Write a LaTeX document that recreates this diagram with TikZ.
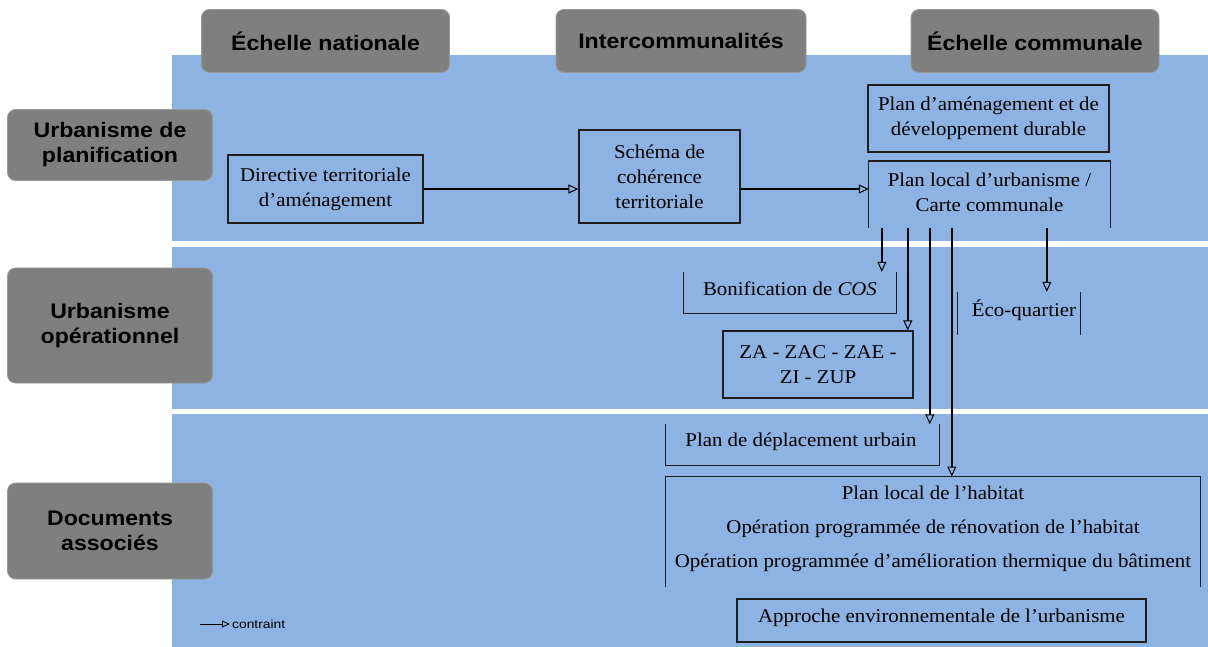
\documentclass[tikz,border=0pt]{standalone}
\usepackage{fontspec}
\setmainfont{Liberation Serif}[FakeStretch=1.07]
\newfontfamily\hdfont{Liberation Sans}[FakeStretch=1.1]
\newfontfamily\lgfont{Liberation Sans}[FakeStretch=1.15]
\usetikzlibrary{arrows.meta,calc}
\definecolor{band}{HTML}{8DB3E2}
\definecolor{hdgray}{HTML}{7F7F7F}
\definecolor{boxline}{HTML}{1F1F1F}
\tikzset{
  band/.style={fill=band,draw=none},
  hdbox/.style={fill=hdgray,draw=hdgray!80!white,line width=0.8pt,rounded corners=8pt,
    font=\hdfont\bfseries\fontsize{21}{25}\selectfont,text=black,align=center,inner sep=0pt},
  doc/.style={font=\fontsize{19.5}{25}\selectfont,align=center,inner sep=0pt,text=black},
  framed/.style={doc,draw=boxline,line width=1.2pt},
  side/.style={draw=boxline,line width=1.2pt},
  arr/.style={draw=black,line width=1.6pt,-{Triangle[open,length=10pt,width=9pt,line width=1pt]}},
}
\begin{document}
\begin{tikzpicture}[x=1pt,y=-1pt]
\useasboundingbox (0,0) rectangle (1208,647);
\fill[white] (0,0) rectangle (1208,647);
% bands
\path[band] (172,55) rectangle (1208,241);
\path[band] (172,247) rectangle (1208,409);
\path[band] (172,414) rectangle (1208,647);
% column headers
\node[hdbox,minimum width=248pt,minimum height=63pt] (h1) at (325.5,41) {Échelle nationale};
\node[hdbox,minimum width=250pt,minimum height=63pt] (h2) at (681,41) {Intercommunalités};
\node[hdbox,minimum width=248pt,minimum height=63pt] (h3) at (1035,41) {Échelle communale};
% row headers
\node[hdbox,minimum width=205pt,minimum height=71pt] (r1) at (110,145) {Urbanisme de\\planification};
\node[hdbox,minimum width=205pt,minimum height=115pt] (r2) at (110,325.5) {Urbanisme\\opérationnel};
\node[hdbox,minimum width=205pt,minimum height=96pt] (r3) at (110,531) {Documents\\associés};
% boxes
\node[framed,minimum width=195pt,minimum height=68pt] (dta) at (325.5,189) {Directive territoriale\\d’aménagement};
\node[framed,minimum width=161pt,minimum height=93pt] (scot) at (659.5,176.5) {Schéma de\\cohérence\\territoriale};
\node[framed,minimum width=241pt,minimum height=67pt] (padd) at (988.5,118.5) {Plan d’aménagement et de\\développement durable};
\node[doc,minimum width=241pt,minimum height=67pt,anchor=north] (plu) at (989.5,161) {};
\node[doc] (plut) at (989.5,192) {Plan local d’urbanisme /\\Carte communale};
\draw[side] (plu.south west) -- (plu.north west) -- (plu.north east) -- (plu.south east);
\node[doc,minimum width=212pt,minimum height=41pt] (cos) at (790,292.5) {};
\node[doc] (cost) at (790,289) {Bonification de \textit{COS}};
\draw[side] (cos.north west) -- (cos.south west) -- (cos.south east) -- (cos.north east);
\node[framed,minimum width=190pt,minimum height=67pt] (za) at (818,364.5) {ZA - ZAC - ZAE -\\ZI - ZUP};
\node[doc,minimum width=122pt,minimum height=43pt] (eco) at (1019,313.5) {};
\node[doc] (ecot) at (1024,310) {Éco-quartier};
\draw[side] (eco.north west) -- (eco.south west);
\draw[side] (eco.north east) -- (eco.south east);
\node[doc,minimum width=273pt,minimum height=41pt] (pdu) at (802.5,445) {};
\node[doc] (pdut) at (801,441.5) {Plan de déplacement urbain};
\draw[side] (pdu.north west) -- (pdu.south west) -- (pdu.south east) -- (pdu.north east);
\node[doc,minimum width=534pt,minimum height=110pt,anchor=north] (plh) at (933,476.5) {};
\node[doc,font=\fontsize{19.5}{34}\selectfont] (plht) at (933,529) {Plan local de l’habitat\\Opération programmée de rénovation de l’habitat\\Opération programmée d’amélioration thermique du bâtiment};
\draw[side] (plh.south west) -- (plh.north west) -- (plh.north east) -- (plh.south east);
\node[framed,minimum width=409pt,minimum height=43pt] (aeu) at (941.5,620.5) {};
\node[doc] (aeut) at (941.5,618) {Approche environnementale de l’urbanisme};
% connectors
\draw[arr] (dta.east) -- (dta.east -| scot.west);
\draw[arr] (dta.east -| scot.east) -- (dta.east -| plu.west);
\draw[arr] ($(plu.south west)+(13,0)$) coordinate (p1) -- (p1 |- cos.north);
\draw[arr] ($(plu.south west)+(39,0)$) coordinate (p2) -- (p2 |- za.north);
\draw[arr] ($(plu.south west)+(61,0)$) coordinate (p3) -- (p3 |- pdu.north);
\draw[arr] ($(plu.south west)+(83,0)$) coordinate (p4) -- (p4 |- plh.north);
\draw[arr] ($(plu.south west)+(178,0)$) coordinate (p5) -- (p5 |- eco.north);
% legend
\coordinate (lg1) at (200,624);
\coordinate (lg2) at (230,624);
\draw[arr,line width=1pt,-{Triangle[open,length=8pt,width=7pt,line width=0.8pt]}] (lg1) -- (lg2);
\node[anchor=west,font=\lgfont\fontsize{12}{14}\selectfont,inner sep=2pt] (lgt) at (lg2) {contraint};
\end{tikzpicture}
\end{document}
